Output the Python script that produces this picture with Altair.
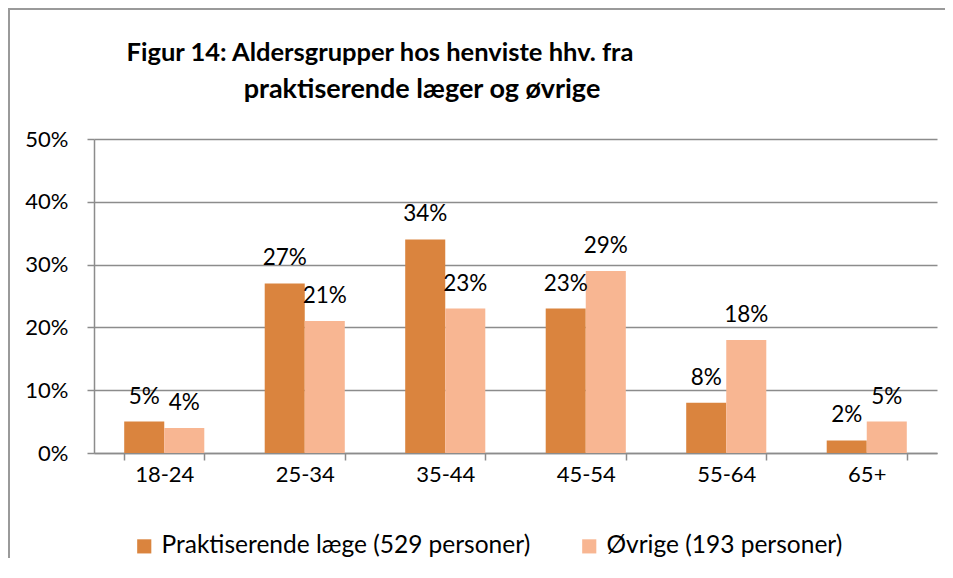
import altair as alt
import pandas as pd

categories = ["18-24", "25-34", "35-44", "45-54", "55-64", "65+"]
praktiserende = [0.05, 0.27, 0.34, 0.23, 0.08, 0.02]
ovrige = [0.04, 0.21, 0.23, 0.29, 0.18, 0.05]
series_names = ["Praktiserende læge (529 personer)", "Øvrige (193 personer)"]
series_colors = ["#DA843E", "#F8B692"]
title_lines = ["Figur 14: Aldersgrupper hos henviste hhv. fra", "praktiserende læger og øvrige"]
y_ticks = [0, 0.1, 0.2, 0.3, 0.4, 0.5]

rows = []
for i, c in enumerate(categories):
    rows.append({"cat": c, "series": series_names[0], "value": praktiserende[i]})
    rows.append({"cat": c, "series": series_names[1], "value": ovrige[i]})
df = pd.DataFrame(rows)

FONT = "Lato"
GRAY = "#8C8C8C"
W, H = 843, 314
PAD = {"left": 86, "top": 131, "right": 8, "bottom": 105}

x_enc = alt.X("cat:N", sort=categories, title=None,
              scale=alt.Scale(paddingInner=0.43, paddingOuter=0.215),
              axis=alt.Axis(labelAngle=0, labelFontSize=22, labelFont=FONT, labelColor="#000000",
                            domainColor=GRAY, domainWidth=1.5, tickColor=GRAY, tickWidth=1.5,
                            tickSize=7, tickBand="extent", labelPadding=4))
xo_enc = alt.XOffset("series:N", sort=series_names, scale=alt.Scale(paddingInner=0, paddingOuter=0))
y_enc = alt.Y("value:Q", title=None,
              scale=alt.Scale(domain=[0, 0.5], nice=False),
              axis=alt.Axis(values=y_ticks, format=".0%", labelFontSize=22, labelFont=FONT,
                            labelColor="#000000", grid=True, gridColor=GRAY, gridWidth=1.5,
                            domainColor=GRAY, domainWidth=1.5, tickColor=GRAY, tickWidth=1.5,
                            tickSize=7, labelPadding=19))

bars = alt.Chart(df).mark_bar().encode(
    x=x_enc, xOffset=xo_enc, y=y_enc,
    color=alt.Color("series:N", sort=series_names, title=None,
                    scale=alt.Scale(domain=series_names, range=series_colors),
                    legend=alt.Legend(orient="none", legendX=38, legendY=395, direction="horizontal",
                                      columns=2, symbolType="square", symbolSize=200,
                                      symbolStrokeWidth=0, labelFont=FONT, labelFontSize=24.5,
                                      labelColor="#000000", labelOffset=5, columnPadding=46,
                                      labelLimit=600)),
)

labels = alt.Chart(df).mark_text(font=FONT, fontSize=22.5, color="#000000", dy=-18,
                                 baseline="alphabetic").encode(
    x=alt.X("cat:N", sort=categories), xOffset=alt.XOffset("series:N", sort=series_names),
    y="value:Q", text=alt.Text("value:Q", format=".0%"),
)

t1 = alt.Chart(pd.DataFrame({"t": [title_lines[0]]})).mark_text(
    font=FONT, fontSize=25.5, fontWeight="bold", color="#000000", align="center", baseline="alphabetic"
).encode(text="t:N", x=alt.value(286), y=alt.value(-78))
t2 = alt.Chart(pd.DataFrame({"t": [title_lines[1]]})).mark_text(
    font=FONT, fontSize=27, fontWeight="bold", color="#000000", align="center", baseline="alphabetic"
).encode(text="t:N", x=alt.value(328), y=alt.value(-41))

border_top = alt.Chart(pd.DataFrame({"a": [0]})).mark_rule(color="#9A9A9A", strokeWidth=2).encode(
    x=alt.value(-86), x2=alt.value(W + PAD["right"]), y=alt.value(-130))
border_left = alt.Chart(pd.DataFrame({"a": [0]})).mark_rule(color="#9A9A9A", strokeWidth=2).encode(
    x=alt.value(-85), y=alt.value(-131), y2=alt.value(H + PAD["bottom"]))

chart = alt.layer(bars, labels, t1, t2, border_top, border_left).properties(
    width=W, height=H,
    autosize=alt.AutoSizeParams(type="none"),
    padding=PAD,
    background="#FFFFFF",
).configure_view(strokeWidth=0)

chart.save("out.html", embed_options={"renderer": "svg", "actions": False})
